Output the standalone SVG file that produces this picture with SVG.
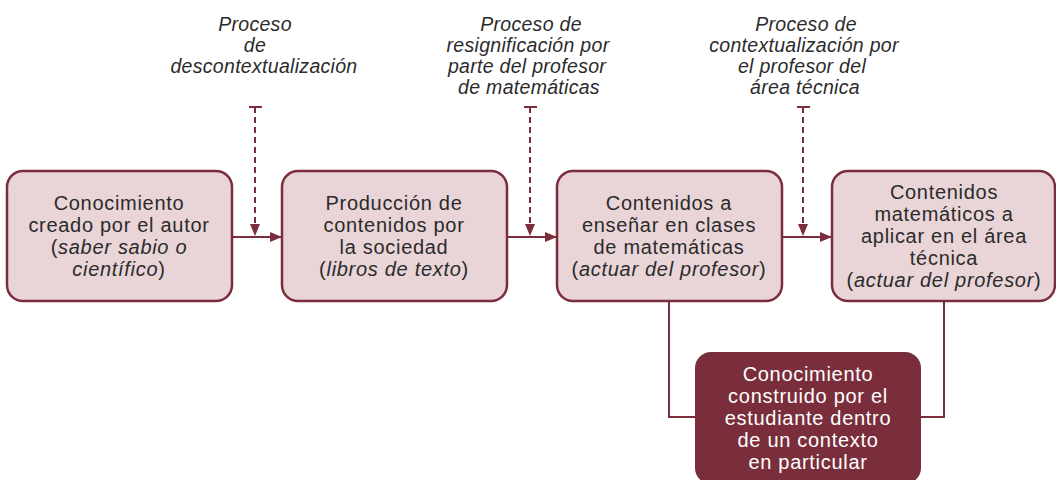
<svg xmlns="http://www.w3.org/2000/svg" width="1056" height="480" viewBox="0 0 1056 480">
<style>
.box{fill:#e9d4d7;stroke:#7a2e3c;stroke-width:2.5}
.dark{fill:#7a2e3c;stroke:none}
.t{font-family:"Liberation Sans",Arial,sans-serif;font-size:20px;letter-spacing:0.7px;fill:#2b2b2b;text-anchor:middle}
.w{fill:#ffffff}
.lab{font-family:"Liberation Sans",Arial,sans-serif;font-size:19.5px;letter-spacing:0.3px;font-style:italic;fill:#2b2b2b;text-anchor:middle}
.ln{stroke:#7a2e3c;stroke-width:2;fill:none}
.dash{stroke:#7a2e3c;stroke-width:2;fill:none;stroke-dasharray:6 4}
</style>
<defs>
<marker id="ah" markerWidth="12" markerHeight="10" refX="12" refY="5" orient="auto" markerUnits="userSpaceOnUse">
<path d="M0,0 L12,5 L0,10 Z" fill="#7a2e3c"/>
</marker>
</defs>
<g id="labels">
<text class="lab" x="255" y="31">Proceso</text>
<text class="lab" x="255" y="52">de</text>
<text class="lab" x="264" y="73">descontextualización</text>
<text class="lab" x="531" y="31">Proceso de</text>
<text class="lab" x="528" y="52">resignificación por</text>
<text class="lab" x="527" y="73">parte del profesor</text>
<text class="lab" x="529" y="94">de matemáticas</text>
<text class="lab" x="806" y="31">Proceso de</text>
<text class="lab" x="804" y="52">contextualización por</text>
<text class="lab" x="802" y="73">el profesor del</text>
<text class="lab" x="805" y="94">área técnica</text>
</g>
<g id="connectors">
<line class="ln" x1="232" y1="237" x2="282" y2="237" marker-end="url(#ah)"/>
<line class="ln" x1="507" y1="237" x2="557" y2="237" marker-end="url(#ah)"/>
<line class="ln" x1="782" y1="237" x2="832" y2="237" marker-end="url(#ah)"/>
<line class="ln" x1="249" y1="107" x2="262" y2="107"/>
<line class="dash" x1="255" y1="107" x2="255" y2="236" marker-end="url(#ah)"/>
<line class="ln" x1="524" y1="107" x2="537" y2="107"/>
<line class="dash" x1="530" y1="107" x2="530" y2="236" marker-end="url(#ah)"/>
<line class="ln" x1="797" y1="107" x2="810" y2="107"/>
<line class="dash" x1="803" y1="107" x2="803" y2="236" marker-end="url(#ah)"/>
<polyline class="ln" points="669,301 669,417 696,417"/>
<polyline class="ln" points="944,301 944,417 919,417"/>
</g>
<g id="n1">
<rect class="box" x="7" y="171" width="225" height="130" rx="16"/>
<text class="t" x="119" y="210">Conocimiento</text>
<text class="t" x="119" y="232">creado por el autor</text>
<text class="t" x="119" y="254">(<tspan font-style="italic">saber sabio o</tspan></text>
<text class="t" x="119" y="276"><tspan font-style="italic">científico</tspan>)</text>
</g>
<g id="n2">
<rect class="box" x="282" y="171" width="225" height="130" rx="16"/>
<text class="t" x="394" y="210">Producción de</text>
<text class="t" x="394" y="232">contenidos por</text>
<text class="t" x="394" y="254">la sociedad</text>
<text class="t" x="394" y="276">(<tspan font-style="italic">libros de texto</tspan>)</text>
</g>
<g id="n3">
<rect class="box" x="557" y="171" width="225" height="130" rx="16"/>
<text class="t" x="669" y="210">Contenidos a</text>
<text class="t" x="669" y="232">enseñar en clases</text>
<text class="t" x="669" y="254">de matemáticas</text>
<text class="t" x="669" y="276">(<tspan font-style="italic">actuar del profesor</tspan>)</text>
</g>
<g id="n4">
<rect class="box" x="832" y="171" width="223" height="130" rx="16"/>
<text class="t" x="944" y="199">Contenidos</text>
<text class="t" x="944" y="221">matemáticos a</text>
<text class="t" x="944" y="243">aplicar en el área</text>
<text class="t" x="944" y="265">técnica</text>
<text class="t" x="944" y="287">(<tspan font-style="italic">actuar del profesor</tspan>)</text>
</g>
<g id="n5">
<rect class="dark" x="695" y="352" width="226" height="132" rx="16"/>
<text class="t w" x="808" y="381">Conocimiento</text>
<text class="t w" x="808" y="403">construido por el</text>
<text class="t w" x="808" y="425">estudiante dentro</text>
<text class="t w" x="808" y="447">de un contexto</text>
<text class="t w" x="808" y="469">en particular</text>
</g>
</svg>
